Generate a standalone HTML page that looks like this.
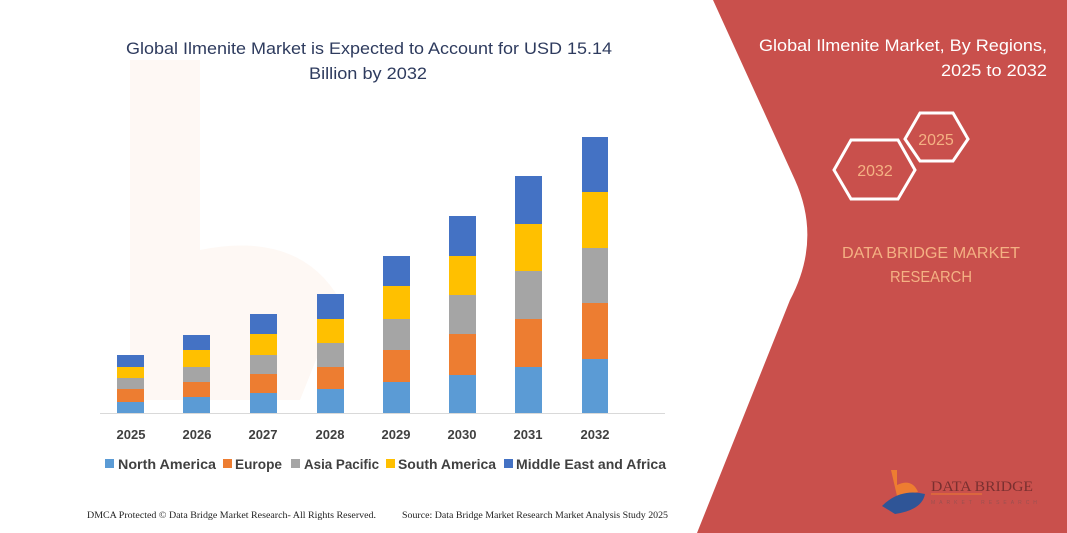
<!DOCTYPE html>
<html><head><meta charset="utf-8"><style>
html,body{margin:0;padding:0;background:#fff;}
svg{display:block;}
</style></head><body>
<svg width="1067" height="533" viewBox="0 0 1067 533" xmlns="http://www.w3.org/2000/svg">
<rect width="1067" height="533" fill="#fff"/>
<g opacity="0.05">
<path d="M130 60 L200 60 L200 250 Q300 230 340 300 L300 400 L130 400 Z" fill="#ed7d31"/>
</g>
<path d="M713 0 L1067 0 L1067 533 L697 533 L790 300 Q822 240 795 180 Z" fill="#c9504c"/>
<g font-family="Liberation Sans, sans-serif" fill="#2e3b5e" font-size="17" text-anchor="middle">
<text x="369" y="54" textLength="486" lengthAdjust="spacingAndGlyphs">Global Ilmenite Market is Expected to Account for USD 15.14</text>
<text x="368" y="79" textLength="118" lengthAdjust="spacingAndGlyphs">Billion by 2032</text>
</g>
<g>
<rect x="117" y="402" width="27" height="11" fill="#5b9bd5"/><rect x="117" y="389" width="27" height="13" fill="#ed7d31"/><rect x="117" y="378" width="27" height="11" fill="#a5a5a5"/><rect x="117" y="367" width="27" height="11" fill="#ffc000"/><rect x="117" y="355" width="27" height="12" fill="#4472c4"/>
<rect x="183" y="397" width="27" height="16" fill="#5b9bd5"/><rect x="183" y="382" width="27" height="15" fill="#ed7d31"/><rect x="183" y="367" width="27" height="15" fill="#a5a5a5"/><rect x="183" y="350" width="27" height="17" fill="#ffc000"/><rect x="183" y="335" width="27" height="15" fill="#4472c4"/>
<rect x="250" y="393" width="27" height="20" fill="#5b9bd5"/><rect x="250" y="374" width="27" height="19" fill="#ed7d31"/><rect x="250" y="355" width="27" height="19" fill="#a5a5a5"/><rect x="250" y="334" width="27" height="21" fill="#ffc000"/><rect x="250" y="314" width="27" height="20" fill="#4472c4"/>
<rect x="317" y="389" width="27" height="24" fill="#5b9bd5"/><rect x="317" y="367" width="27" height="22" fill="#ed7d31"/><rect x="317" y="343" width="27" height="24" fill="#a5a5a5"/><rect x="317" y="319" width="27" height="24" fill="#ffc000"/><rect x="317" y="294" width="27" height="25" fill="#4472c4"/>
<rect x="383" y="382" width="27" height="31" fill="#5b9bd5"/><rect x="383" y="350" width="27" height="32" fill="#ed7d31"/><rect x="383" y="319" width="27" height="31" fill="#a5a5a5"/><rect x="383" y="286" width="27" height="33" fill="#ffc000"/><rect x="383" y="256" width="27" height="30" fill="#4472c4"/>
<rect x="449" y="375" width="27" height="38" fill="#5b9bd5"/><rect x="449" y="334" width="27" height="41" fill="#ed7d31"/><rect x="449" y="295" width="27" height="39" fill="#a5a5a5"/><rect x="449" y="256" width="27" height="39" fill="#ffc000"/><rect x="449" y="216" width="27" height="40" fill="#4472c4"/>
<rect x="515" y="367" width="27" height="46" fill="#5b9bd5"/><rect x="515" y="319" width="27" height="48" fill="#ed7d31"/><rect x="515" y="271" width="27" height="48" fill="#a5a5a5"/><rect x="515" y="224" width="27" height="47" fill="#ffc000"/><rect x="515" y="176" width="27" height="48" fill="#4472c4"/>
<rect x="582" y="359" width="26" height="54" fill="#5b9bd5"/><rect x="582" y="303" width="26" height="56" fill="#ed7d31"/><rect x="582" y="248" width="26" height="55" fill="#a5a5a5"/><rect x="582" y="192" width="26" height="56" fill="#ffc000"/><rect x="582" y="137" width="26" height="55" fill="#4472c4"/>
</g>
<line x1="100" y1="413.5" x2="665" y2="413.5" stroke="#d9d9d9" stroke-width="1"/>
<g font-family="Liberation Sans, sans-serif" font-weight="bold" font-size="13" fill="#404040" text-anchor="middle">
<text x="131" y="439">2025</text><text x="197" y="439">2026</text><text x="263" y="439">2027</text><text x="330" y="439">2028</text><text x="396" y="439">2029</text><text x="462" y="439">2030</text><text x="528" y="439">2031</text><text x="595" y="439">2032</text>
</g>
<g font-family="Liberation Sans, sans-serif" font-weight="bold" font-size="13.5" fill="#404040">
<rect x="105" y="459" width="9" height="9" fill="#5b9bd5"/><text x="118" y="469" textLength="98" lengthAdjust="spacingAndGlyphs">North America</text>
<rect x="223" y="459" width="9" height="9" fill="#ed7d31"/><text x="235" y="469" textLength="47" lengthAdjust="spacingAndGlyphs">Europe</text>
<rect x="291" y="459" width="9" height="9" fill="#a5a5a5"/><text x="304" y="469" textLength="75" lengthAdjust="spacingAndGlyphs">Asia Pacific</text>
<rect x="386" y="459" width="9" height="9" fill="#ffc000"/><text x="398" y="469" textLength="98" lengthAdjust="spacingAndGlyphs">South America</text>
<rect x="504" y="459" width="9" height="9" fill="#4472c4"/><text x="516" y="469" textLength="150" lengthAdjust="spacingAndGlyphs">Middle East and Africa</text>
</g>
<g font-family="Liberation Serif, serif" font-size="9" fill="#222">
<text x="87" y="518" textLength="289" lengthAdjust="spacingAndGlyphs">DMCA Protected © Data Bridge Market Research-  All Rights Reserved.</text>
<text x="402" y="518" textLength="266" lengthAdjust="spacingAndGlyphs">Source: Data Bridge Market Research  Market Analysis Study 2025</text>
</g>
<g font-family="Liberation Sans, sans-serif" fill="#fff" font-size="17" text-anchor="end">
<text x="1047" y="51" textLength="288" lengthAdjust="spacingAndGlyphs">Global Ilmenite Market, By Regions,</text>
<text x="1047" y="76" textLength="106" lengthAdjust="spacingAndGlyphs">2025 to 2032</text>
</g>
<polygon points="905,139 920,113 953,113 968,139 953,161 920,161" fill="none" stroke="#fff" stroke-width="3"/>
<polygon points="834,170 851,140 898,140 915,170 898,199 851,199" fill="none" stroke="#fff" stroke-width="3"/>
<g font-family="Liberation Sans, sans-serif" fill="#f4b183" font-size="16" text-anchor="middle">
<text x="936" y="145">2025</text>
<text x="875" y="176">2032</text>
<text x="931" y="258" textLength="178" lengthAdjust="spacingAndGlyphs">DATA BRIDGE MARKET</text>
<text x="931" y="282" textLength="82" lengthAdjust="spacingAndGlyphs">RESEARCH</text>
</g>
<path d="M891 470 L897 470 L897 485 Q912 478 918 492 L897 496 Z" fill="#ed7d31"/>
<path d="M882 506 Q900 488 925 494 Q922 510 895 514 Z" fill="#2f5597"/>
<text x="931" y="491" font-family="Liberation Serif, serif" font-size="15" fill="#7a3030" textLength="102" lengthAdjust="spacingAndGlyphs">DATA BRIDGE</text>
<line x1="931" y1="494" x2="982" y2="494" stroke="#ed7d31" stroke-width="1"/>
<text x="931" y="504" font-family="Liberation Sans, sans-serif" font-size="5" letter-spacing="4" fill="#9a5050">MARKET RESEARCH</text>
</svg>
</body></html>
